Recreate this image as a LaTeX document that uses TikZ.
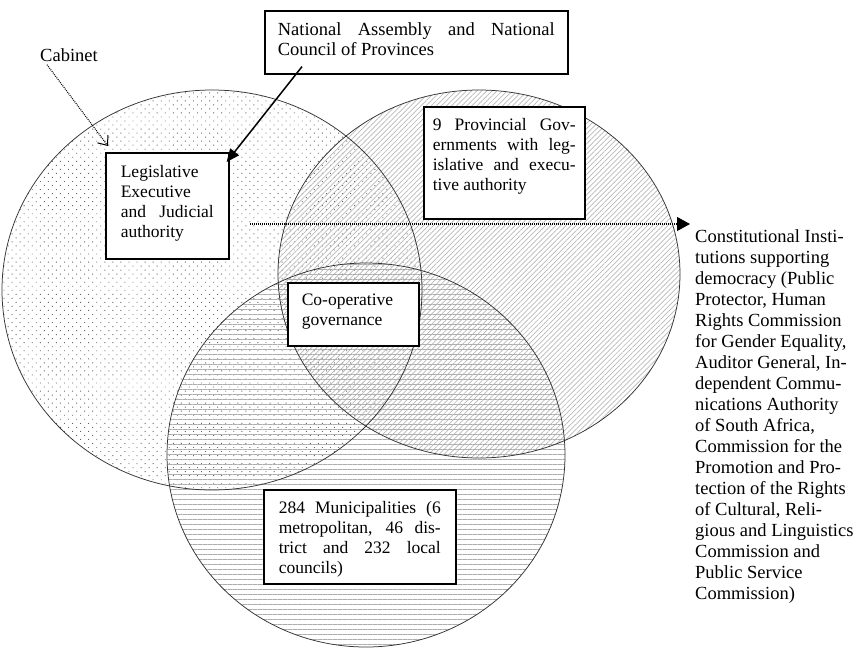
\documentclass[tikz,border=0pt]{standalone}
\usepackage{fontspec}
\setmainfont{Liberation Serif}
\usetikzlibrary{arrows.meta,patterns.meta}

% fixed-size, top-aligned text block for the framed boxes
\newcommand\boxtext[3]{\parbox[c][#1][t]{#2}{#3}}
\newcommand\jline[1]{\makebox[\linewidth][s]{#1}}

\begin{document}
\begin{tikzpicture}[x=1pt,y=-1pt,
  ring/.style={draw=black!80, line width=0.75pt},
  box/.style={draw=black, line width=1.6pt, fill=white, anchor=north west,
              font=\fontsize{17.5}{20}\selectfont},
  bigtext/.style={font=\fontsize{18.5}{21}\selectfont, inner sep=0pt},
  dotline/.style={line width=1.1pt, dash pattern=on 0.9pt off 1.1pt},
]
\useasboundingbox (0,0) rectangle (858,649);

% textured spheres of government
\fill[pattern={Dots[distance=5.7pt,radius=0.65pt,angle=45]}, pattern color=black!60]
  (212,290) ellipse [x radius=210pt, y radius=200pt];
\fill[pattern={Lines[angle=45,distance=3.6pt,line width=0.7pt]}, pattern color=black!28]
  (479,274) ellipse [x radius=201pt, y radius=184pt];
\fill[pattern={Lines[angle=0,distance=5pt,line width=0.5pt]}, pattern color=black!32]
  (366,455) ellipse [x radius=199pt, y radius=192pt];

\draw[ring] (212,290) ellipse [x radius=210pt, y radius=200pt];
\draw[ring] (479,274) ellipse [x radius=201pt, y radius=184pt];
\draw[ring] (366,455) ellipse [x radius=199pt, y radius=192pt];

% framed boxes
\node[box, inner xsep=13pt, inner ysep=12pt, font=\fontsize{18.5}{20}\selectfont] (nat) at (264,10)
  {\boxtext{39pt}{277pt}{\jline{National Assembly and National}\\Council of Provinces}};
\node[box, inner xsep=15pt, inner ysep=13pt] (leg) at (105,152)
  {\boxtext{80pt}{93pt}{Legislative\\Executive\\\jline{and Judicial}\\authority}};
\node[box, inner xsep=9pt, inner ysep=12pt] (prov) at (423,106)
  {\boxtext{88pt}{143pt}{\jline{9 Provincial Gov-}\\\jline{ernments with leg-}\\\jline{islative and execu-}\\tive authority}};
\node[box, inner xsep=14pt, inner ysep=11pt] (coop) at (287,282)
  {\boxtext{41pt}{103pt}{Co-operative\\governance}};
\node[box, inner xsep=15pt, inner ysep=12pt] (muni) at (263,489)
  {\boxtext{70pt}{162pt}{\jline{284 Municipalities (6}\\\jline{metropolitan, 46 dis-}\\\jline{trict and 232 local}\\councils)}};

% free labels
\node[bigtext, anchor=west] (cab) at (40,55) {Cabinet};
\node[bigtext, anchor=north west, align=left] (cis) at (695,229)
  {Constitutional Insti-\\tutions supporting\\democracy (Public\\Protector, Human\\Rights Commission\\for Gender Equality,\\Auditor General, In-\\dependent Commu-\\nications Authority\\of South Africa,\\Commission for the\\Promotion and Pro-\\tection of the Rights\\of Cultural, Reli-\\gious and Linguistics\\Commission and\\Public Service\\Commission)};

% connectors
\draw[dotline, -{Straight Barb[length=8pt,width=13pt,line width=1pt]}]
  ([xshift=7pt,yshift=-3pt]cab.south west) -- ([shift={(3pt,6pt)}]leg.north west);
\draw[line width=1.5pt, -{Triangle[length=13pt,width=11pt]}]
  ([xshift=38pt,yshift=8pt]nat.south west) -- ([shift={(-3pt,-10pt)}]leg.north east);
\coordinate (hs) at (250,224);
\draw[dotline, -{Triangle[length=13pt,width=14pt]}]
  (hs) -- ([shift={(-5pt,5pt)}]cis.north west);
\end{tikzpicture}
\end{document}
